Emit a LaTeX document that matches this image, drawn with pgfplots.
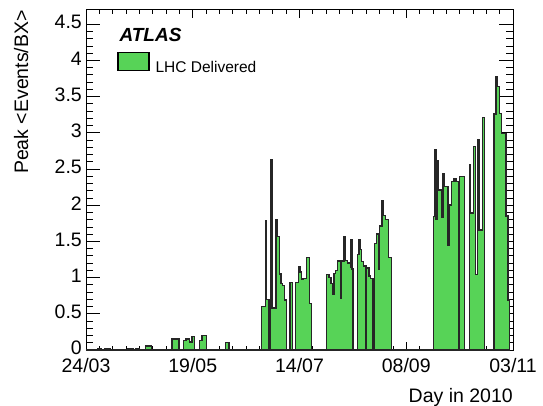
\documentclass[border=0pt]{standalone}
\usepackage{fontspec}
\setmainfont{Liberation Sans}
\usepackage{pgfplots}
\pgfplotsset{compat=1.18}
\definecolor{lhcgreen}{RGB}{87,211,87}
\begin{document}
\begin{tikzpicture}
\begin{axis}[
  at={(86pt,55pt)}, anchor=south west,
  scale only axis, width=427pt, height=340pt,
  xmin=0, xmax=224, ymin=0, ymax=4.696,
  xtick={0,56,112,168,224},
  xticklabels={24/03,19/05,14/07,08/09,03/11},
  minor x tick num=7,
  ytick={0,0.5,1,1.5,2,2.5,3,3.5,4,4.5},
  minor y tick num=4,
  tick align=inside, tick pos=both,
  axis line style={line width=1pt},
  every tick/.style={black, line width=0.8pt},
  xtick style={/pgfplots/major tick length=8pt,/pgfplots/minor tick length=4pt},
  ytick style={/pgfplots/major tick length=14pt,/pgfplots/minor tick length=7pt},
  ticklabel style={font=\fontsize{19.5}{22}\selectfont, inner sep=1pt},
  /pgf/number format/assume math mode=true,
  yticklabel style={/pgf/number format/fixed, xshift=-3pt, yshift=2pt},
  xticklabel style={yshift=-7.5pt},
  legend style={draw=none, fill=none, inner sep=0pt, outer sep=0pt,
    at={(axis description cs:0.0733,0.877)}, anchor=north west,
    nodes={inner sep=0pt}, font=\fontsize{15.5}{18}\selectfont},
]
\addplot[const plot mark left, fill=lhcgreen, draw=black!85, line width=1.4pt,
  legend image code/.code={\draw[fill=lhcgreen, draw=black, line width=1.2pt] (0pt,-3.5pt) rectangle (31pt,14.8pt); \path (37pt,0pt);}]
coordinates {
(0,0) (6,0.015) (8,0) (10,0.015) (13,0) (22,0.02) (25,0) (26,0.015) (28,0)
(31.2,0.055) (34.3,0)
(45.2,0.15) (48.7,0)
(51.2,0.13) (52.5,0.15) (54.2,0.11) (55.6,0.19) (56.8,0)
(59.5,0.13) (60.9,0.2) (63.3,0)
(73.3,0.10) (75.0,0)
(92.2,0.60) (94.3,1.78) (94.8,0.70) (96.0,0) (96.9,2.63) (97.5,0.58) (99.7,1.80) (100.2,1.57)
(101.5,1.05) (102.3,0.92) (103.2,0.89) (104.1,0.69) (105.3,0)
(107.0,0.93) (108.3,0) (110.0,0.93) (111.4,1.15) (112.3,1.08) (113.1,0.98) (114.0,0.99)
(115.8,1.28) (117.2,0.64) (118.4,0)
(126.3,1.04) (127.4,1.00) (128.5,0.92) (129.4,0.77) (130.0,1.06) (131.0,1.10) (131.9,1.23)
(133.4,0.72) (134.0,1.23) (135.3,1.57) (135.9,1.24) (137.3,1.20) (138.6,1.14) (139.0,1.53)
(139.5,1.12) (140.1,0)
(142.3,1.32) (143.3,1.52) (143.8,1.39) (144.6,1.22) (145.6,1.16) (146.8,0) (147.2,1.13)
(148.4,1.02) (149.4,0.99) (150.5,0)
(151.3,1.47) (152.5,1.60) (153.6,1.12) (154.1,1.71) (155.2,2.06) (155.7,1.86) (157.0,1.80)
(158.7,1.28) (160.3,0)
(182.2,1.84) (183.0,2.76) (183.5,1.80) (184.4,2.61) (184.9,2.21) (186.6,1.83) (187.3,2.43)
(187.8,2.26) (189.8,1.45) (190.4,2.00) (191.8,2.33) (193.1,2.37) (194.1,2.33) (195.5,0)
(195.9,2.40) (198.7,0)
(201.1,2.56) (201.8,1.89) (203.2,2.81) (204.2,1.04) (205.3,2.91) (206.2,1.66) (207.9,3.21)
(209.2,0)
(214.1,3.26) (215.0,3.77) (215.6,3.64) (216.9,3.27) (218.1,2.99) (220.3,1.85) (221.0,0.69)
(221.3,1.85) (221.6,0.69) (222.2,0)
} \closedcycle;
\addlegendentry{LHC Delivered}
\end{axis}
\node[anchor=base west, font=\fontsize{19}{22}\selectfont\bfseries\itshape] at (116pt,363.3pt) {ATLAS};
\node[anchor=base east, font=\fontsize{19.5}{22}\selectfont, inner sep=0pt] at (513pt,3pt) {Day in 2010};
\node[rotate=90, anchor=base east, font=\fontsize{19.5}{22}\selectfont, inner sep=0pt] at (28pt,395pt) {Peak <Events/BX>};
\pgfresetboundingbox
\useasboundingbox (0,0) rectangle (543pt,405pt);
\end{tikzpicture}
\end{document}
